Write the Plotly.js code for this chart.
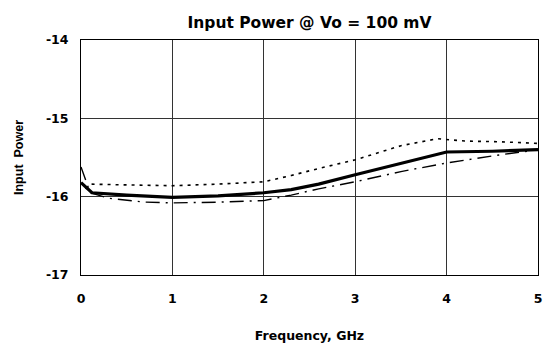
<!DOCTYPE html>
<html><head><meta charset="utf-8">
<script src="https://cdn.plot.ly/plotly-3.0.1.min.js"></script>
<style>html,body{margin:0;padding:0;background:#fff;}#chart{width:545px;height:343px;}</style>
</head><body><div id="chart"></div>
<script>
const solidX = [0, 0.12, 0.5, 1, 1.5, 2, 2.3, 2.6, 3, 3.5, 4, 4.5, 5];
const solidY = [-15.82, -15.95, -15.98, -16.01, -15.99, -15.95, -15.91, -15.84, -15.72, -15.57, -15.43, -15.42, -15.40];
const dotX = [0.05, 0.1, 0.5, 1, 1.5, 2, 2.3, 2.6, 3, 3.5, 3.9, 4.2, 4.6, 5];
const dotY = [-15.9, -15.84, -15.85, -15.86, -15.84, -15.81, -15.73, -15.64, -15.53, -15.35, -15.26, -15.29, -15.3, -15.32];
const dashX = [0, 0.1, 0.3, 0.7, 1, 1.5, 2, 2.3, 2.6, 3, 3.5, 4, 4.5, 5];
const dashY = [-15.62, -15.95, -16.02, -16.07, -16.08, -16.07, -16.05, -15.98, -15.9, -15.81, -15.68, -15.57, -15.48, -15.4];
const xTicks = [0, 1, 2, 3, 4, 5];
const yTicks = [-17, -16, -15, -14];

const wide = {family: 'DejaVu Sans, sans-serif', color: '#000'};
const narrow = {family: 'Liberation Sans, Arial, sans-serif', color: '#000'};
const data = [
  {x: dotX, y: dotY, mode: 'lines', line: {color: '#000', width: 1.6, dash: '3px,5px'}, hoverinfo: 'skip'},
  {x: dashX, y: dashY, mode: 'lines', line: {color: '#000', width: 1.4, dash: '14px,6px,2px,6px'}, hoverinfo: 'skip'},
  {x: solidX, y: solidY, mode: 'lines', line: {color: '#000', width: 3.2}, hoverinfo: 'skip'}
];
const layout = {
  width: 545, height: 343,
  margin: {l: 81, r: 7, t: 40, b: 68},
  paper_bgcolor: '#fff', plot_bgcolor: '#fff',
  showlegend: false,
  font: Object.assign({size: 12}, wide),
  title: {text: '<b>Input Power @ Vo = 100 mV</b>', x: 0.5, xref: 'paper', y: 0.935, yref: 'container', xanchor: 'center', yanchor: 'middle', font: Object.assign({size: 15.5}, wide)},
  xaxis: {range: [0, 5], tickvals: xTicks, ticktext: xTicks.map(v => '<b>' + v + '</b>'),
    showgrid: true, gridcolor: '#333', gridwidth: 1, zeroline: false,
    showline: true, linecolor: '#000', linewidth: 1, mirror: true,
    ticks: '', ticklabelstandoff: 12, tickfont: Object.assign({size: 12.5}, wide),
    title: {text: '<b>Frequency, GHz</b>', standoff: 26, font: Object.assign({size: 12.5}, wide)}},
  yaxis: {range: [-17, -14], tickvals: yTicks, ticktext: yTicks.map(v => '<b>' + v + '</b>'),
    showgrid: true, gridcolor: '#333', gridwidth: 1, zeroline: false,
    showline: true, linecolor: '#000', linewidth: 1, mirror: true,
    ticks: '', ticklabelstandoff: 9, tickfont: Object.assign({size: 12.5}, wide),
    title: {text: '<b>Input  Power</b>', standoff: 19, font: Object.assign({size: 12.5}, narrow)}}
};
Plotly.newPlot('chart', data, layout, {staticPlot: true, displayModeBar: false});
</script></body></html>
